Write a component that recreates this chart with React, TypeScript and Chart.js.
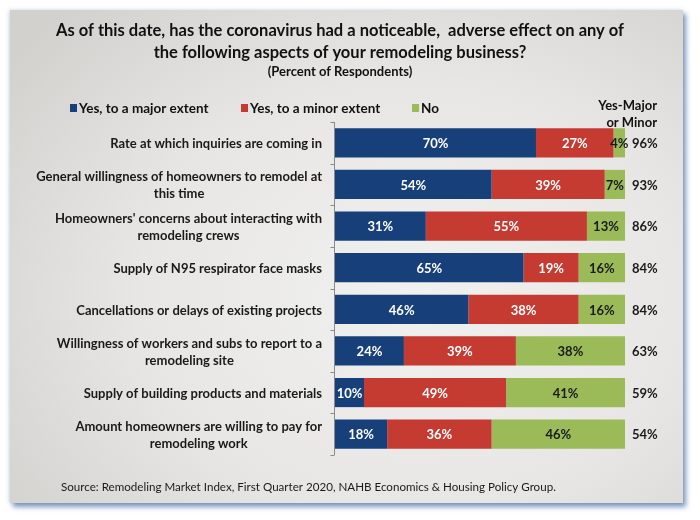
import React, { useEffect, useRef } from "react";
import { Chart, registerables } from "chart.js";

Chart.register(...registerables);

const titleLines = [
  "As of this date, has the coronavirus had a noticeable,  adverse effect on any of",
  "the following aspects of your remodeling business?",
];
const subtitleText = "(Percent of Respondents)";
const categories: string[][] = [
  ["Rate at which inquiries are coming in"],
  ["General willingness of homeowners to remodel at", "this time"],
  ["Homeowners' concerns about interacting with", "remodeling crews"],
  ["Supply of N95 respirator face masks"],
  ["Cancellations or delays of existing projects"],
  ["Willingness of workers and subs to report to a", "remodeling site"],
  ["Supply of building products and materials"],
  ["Amount homeowners are willing to pay for", "remodeling work"],
];
const seriesNames = ["Yes, to a major extent", "Yes, to a minor extent", "No"];
const majorExtent = [70, 54, 31, 65, 46, 24, 10, 18];
const minorExtent = [27, 39, 55, 19, 38, 39, 49, 36];
const noEffect = [4, 7, 13, 16, 16, 38, 41, 46];
const yesMajorOrMinor = [96, 93, 86, 84, 84, 63, 59, 54];
const totalHeader = ["Yes-Major", "or Minor"];
const sourceNote =
  "Source: Remodeling Market Index, First Quarter 2020, NAHB Economics & Housing Policy Group.";

const seriesColors = ["#17407a", "#c53b32", "#9bbb59"];
const labelColors = ["#ffffff", "#ffffff", "#1a1a1a"];
const FONT = "Lato, 'Open Sans', sans-serif";

const series = [majorExtent, minorExtent, noEffect];

export default function App() {
  const canvasRef = useRef<HTMLCanvasElement | null>(null);

  useEffect(() => {
    const canvas = canvasRef.current;
    if (!canvas) return;

    const rowSums = categories.map((_, i) => series.reduce((s, arr) => s + arr[i], 0));

    const decorPlugin = {
      id: "decor",
      afterDatasetsDraw(chart: any) {
        const ctx = chart.ctx as CanvasRenderingContext2D;
        const area = chart.chartArea;
        const yScale = chart.scales.y;
        ctx.save();
        ctx.textBaseline = "middle";

        // segment labels
        chart.data.datasets.forEach((ds: any, di: number) => {
          const meta = chart.getDatasetMeta(di);
          meta.data.forEach((el: any, i: number) => {
            const raw = series[di][i];
            const cx = (el.x + el.base) / 2;
            ctx.font = `bold 13px ${FONT}`;
            ctx.fillStyle = labelColors[di];
            ctx.textAlign = "center";
            ctx.fillText(`${raw}%`, cx, el.y + 1);
          });
        });

        // totals
        const meta0 = chart.getDatasetMeta(0);
        meta0.data.forEach((el: any, i: number) => {
          ctx.font = `bold 13px ${FONT}`;
          ctx.fillStyle = "#1a1a1a";
          ctx.textAlign = "left";
          ctx.fillText(`${yesMajorOrMinor[i]}%`, area.right + 7, el.y + 1);
        });

        // axis line and ticks
        ctx.strokeStyle = "#8a8a8a";
        ctx.lineWidth = 1;
        ctx.beginPath();
        const ax = Math.round(area.left) - 0.5;
        ctx.moveTo(ax, area.top);
        ctx.lineTo(ax, area.bottom);
        const n = categories.length;
        const band = (area.bottom - area.top) / n;
        for (let i = 0; i <= n; i++) {
          const ty = Math.round(area.top + i * band) + 0.5;
          ctx.moveTo(ax - 4, ty);
          ctx.lineTo(ax, ty);
        }
        ctx.stroke();

        // category labels (lines centered within a right-aligned block)
        ctx.font = `bold 13px ${FONT}`;
        ctx.fillStyle = "#1a1a1a";
        ctx.textAlign = "center";
        const blockRight = area.left - 13;
        categories.forEach((lines, i) => {
          const cy = yScale.getPixelForValue(i);
          const w = Math.max(...lines.map((l) => ctx.measureText(l).width));
          const cx = blockRight - w / 2;
          lines.forEach((line, j) => {
            const y = cy + (j - (lines.length - 1) / 2) * 17;
            ctx.fillText(line, cx, y + 1);
          });
        });

        // title
        ctx.fillStyle = "#111111";
        ctx.font = `bold 16.5px ${FONT}`;
        ctx.fillText(titleLines[0], 340, 31);
        ctx.fillText(titleLines[1], 340, 53);
        ctx.font = `bold 13px ${FONT}`;
        ctx.fillText(subtitleText, 340, 72);

        // legend
        const legendX = [70, 241, 412];
        ctx.font = `bold 13.5px ${FONT}`;
        ctx.textAlign = "left";
        seriesNames.forEach((name, k) => {
          ctx.fillStyle = seriesColors[k];
          ctx.fillRect(legendX[k], 104, 7, 8);
          ctx.fillStyle = "#111111";
          ctx.fillText(name, legendX[k] + 9, 109);
        });

        // totals header
        ctx.font = `bold 13px ${FONT}`;
        ctx.textAlign = "right";
        ctx.fillText(totalHeader[0], 657, 106);
        ctx.fillText(totalHeader[1], 657, 123);

        // source
        ctx.font = `11.6px ${FONT}`;
        ctx.textAlign = "left";
        ctx.fillStyle = "#1a1a1a";
        ctx.fillText(sourceNote, 61, 487);

        ctx.restore();
      },
    };

    const chart = new Chart(canvas, {
      type: "bar",
      data: {
        labels: categories.map((c) => c.join(" ")),
        datasets: series.map((arr, di) => ({
          label: seriesNames[di],
          data: arr.map((v, i) => (v / rowSums[i]) * 100),
          backgroundColor: seriesColors[di],
          borderWidth: 0,
          barPercentage: 0.7,
          categoryPercentage: 1,
        })),
      },
      options: {
        indexAxis: "y",
        responsive: false,
        animation: false,
        layout: { padding: { left: 335, right: 75, top: 122, bottom: 65 } },
        plugins: {
          legend: { display: false },
          title: { display: false },
          tooltip: { enabled: false },
        },
        scales: {
          x: { stacked: true, min: 0, max: 100, display: false },
          y: { stacked: true, display: false },
        },
      },
      plugins: [decorPlugin],
    });

    return () => chart.destroy();
  }, []);

  return (
    <div style={{ position: "fixed", left: 0, top: 0, width: 700, height: 520, background: "#ffffff" }}>
      <div
        style={{
          position: "absolute",
          left: 10,
          top: 10,
          width: 673,
          height: 493,
          background:
            "radial-gradient(ellipse 75% 80% at 60% 58%, #f1f1f0 0%, #e7e6e4 55%, #d3d1ce 100%)",
          boxShadow: "3px 4px 5px rgba(60,100,160,0.65), -1px 0 4px rgba(120,150,200,0.35)",
        }}
      />
      <canvas
        ref={canvasRef}
        width={700}
        height={520}
        style={{ position: "absolute", left: 0, top: 0, width: 700, height: 520 }}
      />
    </div>
  );
}
